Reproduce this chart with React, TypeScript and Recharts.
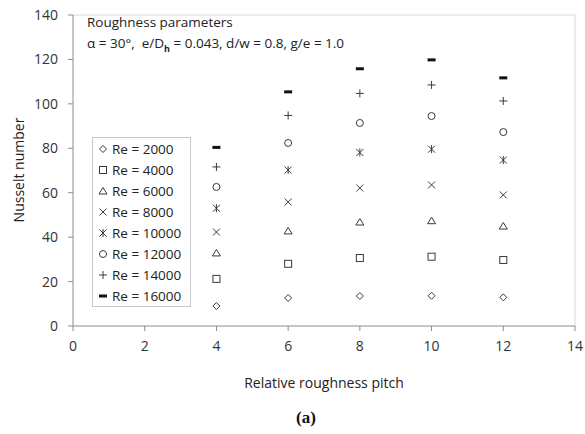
import { ReferenceLine, Scatter, ScatterChart, XAxis, YAxis } from "recharts";

// Relative roughness pitch (P/e)
const pitch = [4, 6, 8, 10, 12];

// Reynolds numbers and the Nusselt numbers
const reynolds = [2000, 4000, 6000, 8000, 10000, 12000, 14000, 16000];
const nu2000 = [9, 12.6, 13.5, 13.6, 12.9];
const nu4000 = [21.2, 28, 30.6, 31.2, 29.7];
const nu6000 = [32.9, 42.8, 46.8, 47.4, 45];
const nu8000 = [42.3, 55.8, 62.1, 63.5, 59];
const nu10000 = [53, 70.2, 78.1, 79.6, 74.7];
const nu12000 = [62.6, 82.4, 91.4, 94.5, 87.3];
const nu14000 = [71.6, 94.8, 104.7, 108.5, 101.3];
const nu16000 = [80.4, 105.4, 115.8, 119.8, 111.7];

const xTicks = [0, 2, 4, 6, 8, 10, 12, 14];
const yTicks = [0, 20, 40, 60, 80, 100, 120, 140];

type Kind = "diamond" | "square" | "triangle" | "cross" | "star" | "circle" | "plus" | "dash";
const KINDS: Kind[] = ["diamond", "square", "triangle", "cross", "star", "circle", "plus", "dash"];
const allNu = [nu2000, nu4000, nu6000, nu8000, nu10000, nu12000, nu14000, nu16000];

const FONT = "'Open Sans', 'Noto Sans', sans-serif";
const INK = "#3a3a3a";

function Marker({ kind, cx, cy }: { kind: Kind; cx: number; cy: number }) {
  const s = { fill: "none", stroke: INK, strokeWidth: 1 };
  switch (kind) {
    case "diamond":
      return <path d={`M${cx},${cy - 3.5}L${cx + 3.5},${cy}L${cx},${cy + 3.5}L${cx - 3.5},${cy}Z`} {...s} />;
    case "square":
      return <rect x={cx - 3.5} y={cy - 3.5} width={7} height={7} {...s} />;
    case "triangle":
      return <path d={`M${cx},${cy - 3.5}L${cx + 4},${cy + 3}L${cx - 4},${cy + 3}Z`} {...s} />;
    case "cross":
      return <path d={`M${cx - 3.5},${cy - 3.5}L${cx + 3.5},${cy + 3.5}M${cx + 3.5},${cy - 3.5}L${cx - 3.5},${cy + 3.5}`} {...s} />;
    case "star":
      return (
        <path
          d={`M${cx - 3.5},${cy - 3.5}L${cx + 3.5},${cy + 3.5}M${cx + 3.5},${cy - 3.5}L${cx - 3.5},${cy + 3.5}M${cx},${cy - 4}L${cx},${cy + 4}`}
          {...s}
        />
      );
    case "circle":
      return <circle cx={cx} cy={cy} r={3.5} {...s} />;
    case "plus":
      return <path d={`M${cx - 4},${cy}L${cx + 4},${cy}M${cx},${cy - 4}L${cx},${cy + 4}`} {...s} />;
    case "dash":
      return <rect x={cx - 4} y={cy - 1.5} width={8} height={3} fill="#111" />;
  }
}

function LegendBox() {
  return (
    <div
      style={{
        position: "absolute",
        left: 92,
        top: 137,
        border: "1px solid #c8c8c8",
        background: "#fff",
        padding: "0 4px",
        fontFamily: FONT,
        fontSize: 13.5,
        color: "#222",
        width: 89,
      }}
    >
      {reynolds.map((re, i) => (
        <div key={re} style={{ height: 21, display: "flex", alignItems: "center" }}>
          <svg width={12} height={12} style={{ marginRight: 3 }}>
            <Marker kind={KINDS[i]} cx={6} cy={6} />
          </svg>
          Re = {re}
        </div>
      ))}
    </div>
  );
}

export default function App() {
  return (
    <div style={{ position: "relative", width: 585, height: 434, background: "#fff" }}>
      <style>{`body{margin:0}`}</style>
      <ScatterChart width={585} height={434} margin={{ top: 15, right: 10, left: 13, bottom: 68 }}>
        <XAxis
          type="number"
          dataKey="x"
          domain={[0, 14]}
          ticks={xTicks}
          axisLine={{ stroke: "#8c8c8c" }}
          tickLine={{ stroke: "#8c8c8c" }}
          tickSize={5}
          tick={{ fill: "#333", fontSize: 14, fontFamily: FONT }}
          tickMargin={10}
          height={40}
        />
        <YAxis
          type="number"
          dataKey="y"
          domain={[0, 140]}
          ticks={yTicks}
          axisLine={{ stroke: "#8c8c8c" }}
          tickLine={{ stroke: "#8c8c8c" }}
          tickSize={5}
          tick={{ fill: "#333", fontSize: 14, fontFamily: FONT }}
          tickMargin={10}
          width={60}
        />
        <ReferenceLine y={140} stroke="#d9d9d9" />
        <ReferenceLine x={14} stroke="#d9d9d9" />
        {allNu.map((vals, i) => (
          <Scatter
            key={reynolds[i]}
            name={`Re = ${reynolds[i]}`}
            data={pitch.map((p, j) => ({ x: p, y: vals[j] }))}
            isAnimationActive={false}
            shape={(props: any) => <Marker kind={KINDS[i]} cx={props.cx} cy={props.cy} />}
          />
        ))}
      </ScatterChart>

      <LegendBox />

      <div style={{ position: "absolute", left: 87, top: 12, fontFamily: FONT, fontSize: 13.5, color: "#222", lineHeight: "21px" }}>
        <div>Roughness parameters</div>
        <div>
          α = 30°,&nbsp; e/D<sub style={{ fontSize: 9, fontWeight: 700 }}>h</sub> = 0.043, d/w = 0.8, g/e = 1.0
        </div>
      </div>

      <div
        style={{
          position: "absolute",
          left: 18,
          top: 170,
          transform: "translate(-50%, -50%) rotate(-90deg)",
          fontFamily: FONT,
          fontSize: 14,
          color: "#222",
          whiteSpace: "nowrap",
        }}
      >
        Nusselt number
      </div>
      <div
        style={{
          position: "absolute",
          left: 324,
          top: 382,
          transform: "translate(-50%, -50%)",
          fontFamily: FONT,
          fontSize: 14,
          color: "#222",
          whiteSpace: "nowrap",
        }}
      >
        Relative roughness pitch
      </div>
      <div
        style={{
          position: "absolute",
          left: 306,
          top: 418,
          transform: "translate(-50%, -50%)",
          fontFamily: "'Liberation Serif', serif",
          fontWeight: 700,
          fontSize: 17,
          color: "#111",
        }}
      >
        (a)
      </div>
    </div>
  );
}
